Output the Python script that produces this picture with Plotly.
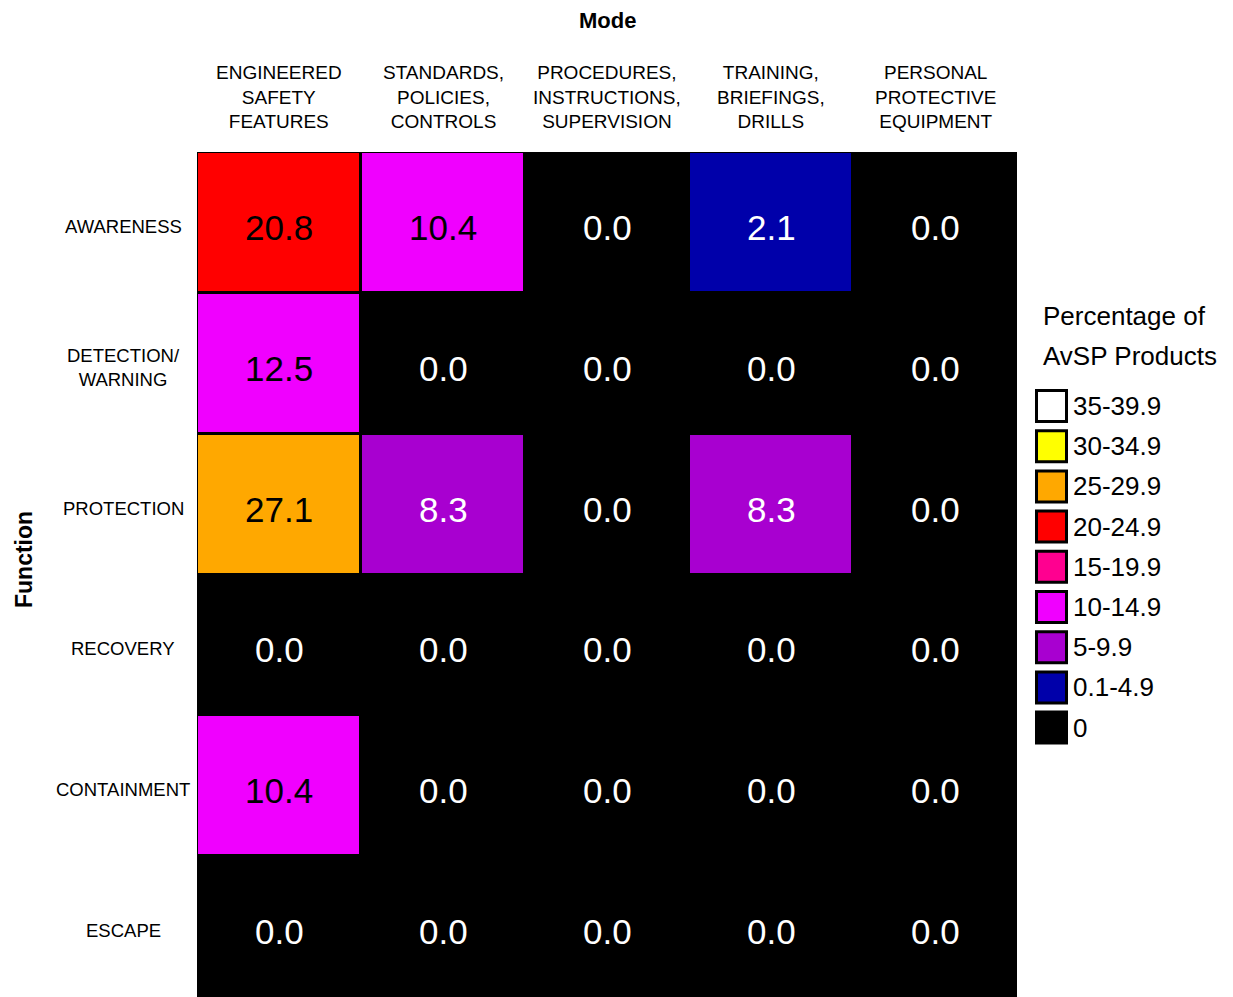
import plotly.graph_objects as go

# ---------------- data ----------------
modes = ["ENGINEERED<br>SAFETY<br>FEATURES",
         "STANDARDS,<br>POLICIES,<br>CONTROLS",
         "PROCEDURES,<br>INSTRUCTIONS,<br>SUPERVISION",
         "TRAINING,<br>BRIEFINGS,<br>DRILLS",
         "PERSONAL<br>PROTECTIVE<br>EQUIPMENT"]
functions = ["AWARENESS", "DETECTION/<br>WARNING", "PROTECTION",
             "RECOVERY", "CONTAINMENT", "ESCAPE"]
values = [
    [20.8, 10.4, 0.0, 2.1, 0.0],
    [12.5, 0.0, 0.0, 0.0, 0.0],
    [27.1, 8.3, 0.0, 8.3, 0.0],
    [0.0, 0.0, 0.0, 0.0, 0.0],
    [10.4, 0.0, 0.0, 0.0, 0.0],
    [0.0, 0.0, 0.0, 0.0, 0.0],
]
# legend bins, low to high
bin_labels = ["0", "0.1-4.9", "5-9.9", "10-14.9", "15-19.9",
              "20-24.9", "25-29.9", "30-34.9", "35-39.9"]
bin_lower = [0, 0.1, 5, 10, 15, 20, 25, 30, 35]
bin_colors = ["#000000", "#0000AA", "#A800D0", "#F000FF", "#FF0090",
              "#FF0000", "#FFA800", "#FFFF00", "#FFFFFF"]
dark_bins = {0, 1, 2}  # white text on these

# ---------------- layout geometry (screen pixels) ----------------
OFF = 8  # page body margin
W, H = 1233 - OFF, 997 - OFF
L, R, T, B = 197, 1017, 152, 997  # plot area in screen pixels
pw, ph = R - L, B - T

def px_x(p):
    return (p - L) / pw

def px_y(p):
    return (B - p) / ph

def bin_index(v):
    idx = 0
    for i, lo in enumerate(bin_lower):
        if v >= lo:
            idx = i
    return idx

z = [[bin_index(v) for v in row] for row in values]
n = len(bin_colors)
colorscale = []
for i, c in enumerate(bin_colors):
    colorscale.append([i / n, c])
    colorscale.append([(i + 1) / n, c])

xcat = list(range(len(modes)))
ycat = list(range(len(functions)))

fig = go.Figure(go.Heatmap(
    z=z, x=xcat, y=ycat, colorscale=colorscale,
    zmin=-0.5, zmax=n - 0.5, showscale=False,
    xgap=3, ygap=3, hoverinfo="skip",
))

font_fam = "Liberation Sans, Arial, sans-serif"
ann = []
# cell values
for r, row in enumerate(values):
    for c, v in enumerate(row):
        ann.append(dict(x=c, y=r, xref="x", yref="y", text=f"{v:.1f}",
                        showarrow=False, xanchor="center", yanchor="middle", yshift=-5,
                        font=dict(size=35, family=font_fam,
                                  color="white" if z[r][c] in dark_bins else "black")))
# column labels
for c, lab in enumerate(modes):
    ann.append(dict(x=c, y=px_y(134), xref="x", yref="paper", text=lab,
                    showarrow=False, xanchor="center", yanchor="bottom", align="center",
                    font=dict(size=19, family=font_fam, color="black")))
# row labels
for r, lab in enumerate(functions):
    ann.append(dict(x=px_x(123), y=r, xref="paper", yref="y", text=lab,
                    showarrow=False, xanchor="center", yanchor="middle", align="center",
                    yshift=-4,
                    font=dict(size=18.5, family=font_fam, color="black")))
# axis titles
ann.append(dict(x=0.5, y=px_y(21), xref="paper", yref="paper", text="<b>Mode</b>",
                showarrow=False, xanchor="center", yanchor="middle",
                font=dict(size=22, family=font_fam, color="black")))
ann.append(dict(x=px_x(24), y=px_y(560), xref="paper", yref="paper",
                text="<b>Function</b>", textangle=-90, showarrow=False,
                xanchor="center", yanchor="middle",
                font=dict(size=23, family=font_fam, color="black")))
# legend title
for txt, py in (("Percentage of", 316), ("AvSP Products", 356)):
    ann.append(dict(x=px_x(1041), y=px_y(py), xref="paper", yref="paper",
                    text=txt, showarrow=False, xanchor="left", yanchor="middle",
                    font=dict(size=26, family=font_fam, color="black")))

shapes = []
top_center = 406
pitch = 40.2
for k, i in enumerate(reversed(range(n))):
    cy = top_center + k * pitch
    shapes.append(dict(type="rect", xref="paper", yref="paper",
                       x0=px_x(1036.5), x1=px_x(1066.5),
                       y0=px_y(cy - 15.5), y1=px_y(cy + 15.5),
                       fillcolor=bin_colors[i],
                       line=dict(color="black", width=3)))
    ann.append(dict(x=px_x(1071), y=px_y(cy), xref="paper", yref="paper",
                    text=bin_labels[i], showarrow=False, xanchor="left", yanchor="middle",
                    font=dict(size=26, family=font_fam, color="black")))

fig.update_layout(
    width=W, height=H,
    margin=dict(l=L - OFF, r=(W + OFF) - R, t=T - OFF, b=(H + OFF) - B, pad=0),
    paper_bgcolor="white", plot_bgcolor="black",
    xaxis=dict(showticklabels=False, showgrid=False, zeroline=False,
               range=[-0.5, len(modes) - 0.5], fixedrange=True),
    yaxis=dict(showticklabels=False, showgrid=False, zeroline=False,
               range=[len(functions) - 0.5, -0.5], fixedrange=True),
    annotations=ann, shapes=shapes, showlegend=False,
)

fig.write_html("out.html")
